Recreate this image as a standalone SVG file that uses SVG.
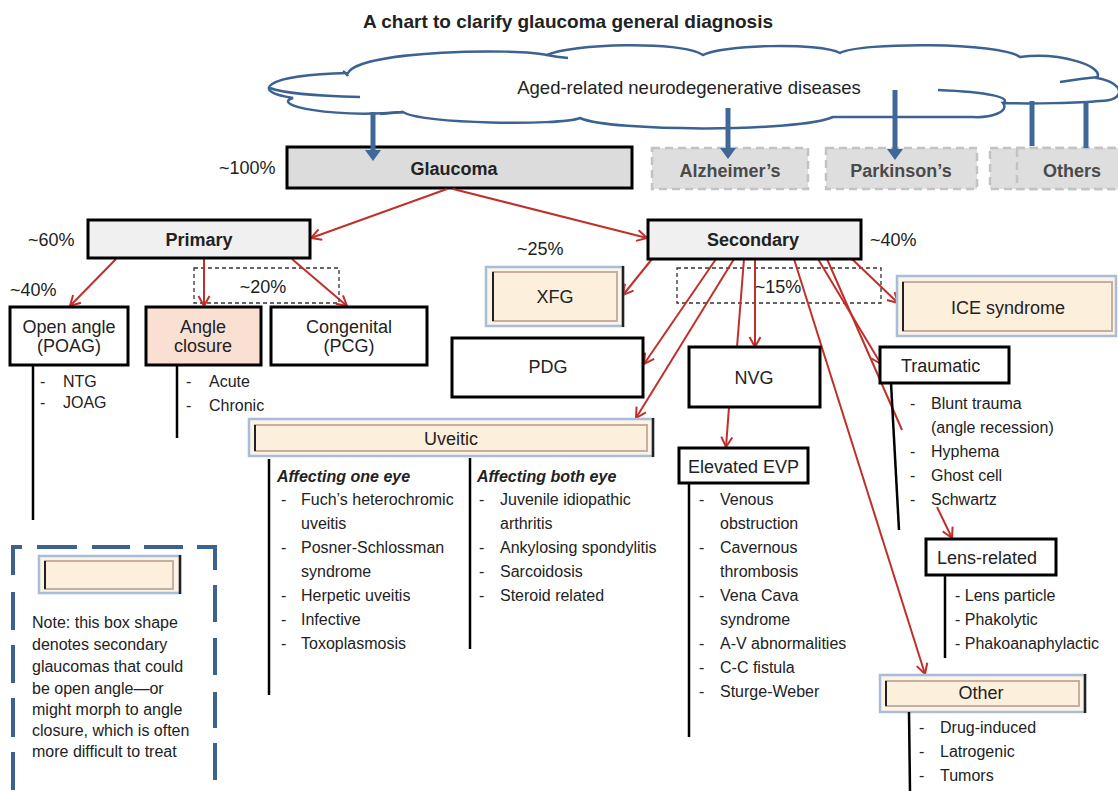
<svg xmlns="http://www.w3.org/2000/svg" width="1118" height="791" viewBox="0 0 1118 791">
<defs>
<style>
text{font-family:"Liberation Sans",Arial,sans-serif;fill:#222;dominant-baseline:central}
.t18{font-size:18px}
.b{font-weight:bold}
.l16{font-size:16px}
.mid{text-anchor:middle}
.box{fill:#fff;stroke:#000;stroke-width:3}
.gbox{fill:#dedede;stroke:#c3c3c3;stroke-width:2.5;stroke-dasharray:8 5}
.gt{fill:#4a4a4a;font-weight:bold;font-size:18px;text-anchor:middle}
.red{stroke:#c0302b;stroke-width:2;fill:none}
.blue{stroke:#3f6797;stroke-width:5;fill:none}
.fo{fill:#fdf4e8;stroke:#a9bdd8;stroke-width:2.5}
.fi{fill:#fcefdc;stroke:#c6aea0;stroke-width:2}
.fd{stroke:#222;stroke-width:2}
.vl{stroke:#000;stroke-width:2.5}
.dsh{fill:none;stroke:#333;stroke-width:1.3;stroke-dasharray:4 3}
.cl{fill:none;stroke:#3c6291;stroke-width:2.5}
.nd{fill:none;stroke:#3c6291;stroke-width:4}
</style>
<marker id="ah" viewBox="0 0 14 14" refX="12" refY="7" markerWidth="14" markerHeight="14" orient="auto" markerUnits="userSpaceOnUse"><path d="M2,1.5 L12,7 L2,12.5" fill="none" stroke="#c0302b" stroke-width="2"/></marker>
</defs>
<rect width="1118" height="791" fill="#fff"/>
<text x="568" y="21" class="b mid" font-size="19">A chart to clarify glaucoma general diagnosis</text>

<g id="cloud">
<path d="M348,73 C360,50 520,48 547,55 C570,44 680,40 703,55 C720,45 820,42 840,53 C860,42 1000,42 1020,57 C1060,52 1105,66 1097,78 C1126,83 1126,101 1100,101 C1080,103 1030,104 1003,103 C1010,112 990,118 973,117 L833,117 C800,132 610,132 580,118 C560,126 420,124 403,112 C330,118 270,105 293,98 C250,92 262,75 348,73 Z" fill="#fff" stroke="#3c6291" stroke-width="2.5"/>
<path class="cl" d="M270,88 C285,94 320,96 360,97"/>
<path class="cl" d="M938,90 C990,92 1012,98 1003,103"/>
<path class="cl" d="M1060,82 Q1085,78 1099,77"/>
<path class="cl" d="M547,55 Q556,57 568,58"/>
<path class="cl" d="M343,71 Q346,73 348,76"/>
<path class="cl" d="M380,114 L403,112"/>
<text x="689" y="87" class="mid" font-size="18.5">Aged-related neurodegenerative diseases</text>
</g>

<g id="glaucoma"><rect x="287" y="147" width="345" height="41" fill="#dcdcdc" stroke="#000" stroke-width="3"/><text x="454" y="169" class="t18 b mid">Glaucoma</text></g>
<text x="219" y="168" class="t18" fill="#333">~100%</text>
<g id="alzheimers"><rect x="652" y="148" width="156" height="41" class="gbox"/><text x="730" y="171" class="gt">Alzheimer’s</text></g>
<g id="parkinsons"><rect x="826" y="148" width="151" height="41" class="gbox"/><text x="901" y="171" class="gt">Parkinson’s</text></g>
<g id="others"><rect x="990" y="148" width="140" height="41" class="gbox"/><rect x="1017" y="148" width="113" height="41" class="gbox"/><text x="1072" y="171" class="gt">Others</text></g>

<g id="blue-connectors">
<line class="blue" x1="373" y1="112" x2="373" y2="151"/><path d="M365,150 L381,150 L373,161 Z" fill="#3f6797"/>
<line class="blue" x1="728" y1="108" x2="728" y2="149"/><path d="M720,148 L736,148 L728,159 Z" fill="#3f6797"/>
<line class="blue" x1="895" y1="90" x2="895" y2="150"/><path d="M887,149 L903,149 L895,160 Z" fill="#3f6797"/>
<line class="blue" x1="1032" y1="101" x2="1032" y2="146"/>
<line class="blue" x1="1086" y1="101" x2="1086" y2="148"/>
</g>

<rect x="194" y="268" width="145" height="35" class="dsh"/>
<text x="263" y="287" class="t18 mid" fill="#333">~20%</text>
<rect x="677" y="268" width="204" height="35" class="dsh"/>
<text x="778" y="287" class="t18 mid" fill="#333">~15%</text>

<g id="red-connectors">
<line class="red" x1="447" y1="189" x2="311" y2="238" marker-end="url(#ah)"/>
<line class="red" x1="453" y1="189" x2="647" y2="238" marker-end="url(#ah)"/>
<line class="red" x1="116" y1="259" x2="70" y2="306" marker-end="url(#ah)"/>
<line class="red" x1="204" y1="259" x2="204" y2="306" marker-end="url(#ah)"/>
<line class="red" x1="292" y1="259" x2="347" y2="306" marker-end="url(#ah)"/>
<line class="red" x1="652" y1="259" x2="623" y2="295" marker-end="url(#ah)"/>
<line class="red" x1="716" y1="259" x2="644" y2="364" marker-end="url(#ah)"/>
<line class="red" x1="734" y1="259" x2="636" y2="418" marker-end="url(#ah)"/>
<line class="red" x1="744" y1="259" x2="737" y2="347"/>
<line class="red" x1="755" y1="259" x2="755" y2="347" marker-end="url(#ah)"/>
<line class="red" x1="794" y1="259" x2="925" y2="674" marker-end="url(#ah)"/>
<line class="red" x1="818" y1="259" x2="881" y2="364" marker-end="url(#ah)"/>
<line class="red" x1="827" y1="259" x2="902" y2="430"/>
<line class="red" x1="937" y1="507" x2="952" y2="538" marker-end="url(#ah)"/>
<line class="red" x1="852" y1="259" x2="898" y2="303" marker-end="url(#ah)"/>
<line class="red" x1="729" y1="407" x2="726" y2="447" marker-end="url(#ah)"/>
</g>

<text x="28" y="240" class="t18" fill="#333">~60%</text>
<text x="10" y="290" class="t18" fill="#333">~40%</text>
<g id="primary"><rect x="88" y="220" width="222" height="38" fill="#f0f0f0" stroke="#000" stroke-width="3"/><text x="199" y="240" class="t18 b mid">Primary</text></g>

<g id="open-angle"><rect x="10" y="307" width="118" height="58" class="box"/><text x="69" y="327" class="t18 mid">Open angle</text><text x="69" y="346" class="t18 mid">(POAG)</text>
<line class="vl" x1="33" y1="365" x2="33" y2="520"/>
<text x="40" y="381" class="l16">-</text><text x="63" y="381" class="l16">NTG</text>
<text x="40" y="402" class="l16">-</text><text x="63" y="402" class="l16">JOAG</text></g>

<g id="angle-closure"><rect x="146" y="307" width="115" height="58" fill="#f9e0d3" stroke="#000" stroke-width="3"/><text x="203" y="327" class="t18 mid">Angle</text><text x="203" y="346" class="t18 mid">closure</text>
<line class="vl" x1="177" y1="365" x2="177" y2="438"/>
<text x="186" y="381" class="l16">-</text><text x="209" y="381" class="l16">Acute</text>
<text x="186" y="405" class="l16">-</text><text x="209" y="405" class="l16">Chronic</text></g>

<g id="congenital"><rect x="271" y="307" width="156" height="58" class="box"/><text x="349" y="327" class="t18 mid">Congenital</text><text x="349" y="346" class="t18 mid">(PCG)</text></g>

<g id="secondary"><rect x="648" y="220" width="213" height="39" fill="#f0f0f0" stroke="#000" stroke-width="3"/><text x="753" y="240" class="t18 b mid">Secondary</text></g>
<text x="870" y="240" class="t18" fill="#333">~40%</text>
<text x="517" y="249" class="t18" fill="#333">~25%</text>

<g id="xfg"><rect x="486" y="267" width="137" height="59" class="fo"/><rect x="493" y="272" width="124" height="49" class="fi"/><line class="fd" x1="493" y1="272" x2="493" y2="321"/><line x1="623" y1="266" x2="623" y2="327" stroke="#222" stroke-width="2.5"/><text x="555" y="297" class="t18 mid">XFG</text></g>

<g id="ice"><rect x="897" y="276" width="219" height="60" class="fo"/><rect x="903" y="282" width="209" height="49" class="fi"/><line class="fd" x1="903" y1="282" x2="903" y2="331"/><text x="1008" y="308" class="t18 mid">ICE syndrome</text></g>

<g id="pdg"><rect x="452" y="338" width="191" height="59" class="box"/><text x="548" y="367" class="t18 mid">PDG</text></g>
<g id="nvg"><rect x="689" y="347" width="131" height="60" class="box"/><text x="754" y="378" class="t18 mid">NVG</text></g>

<g id="traumatic"><rect x="880" y="347" width="129" height="36" class="box"/><text x="901" y="366" class="t18">Traumatic</text>
<line class="vl" x1="891" y1="383" x2="899" y2="530"/>
<text x="910" y="403" class="l16">-</text><text x="931" y="403" class="l16">Blunt trauma</text>
<text x="931" y="427" class="l16">(angle recession)</text>
<text x="910" y="451" class="l16">-</text><text x="931" y="451" class="l16">Hyphema</text>
<text x="910" y="475" class="l16">-</text><text x="931" y="475" class="l16">Ghost cell</text>
<text x="910" y="499" class="l16">-</text><text x="931" y="499" class="l16">Schwartz</text></g>

<g id="uveitic"><rect x="249" y="419" width="404" height="37" class="fo"/><rect x="255" y="425" width="392" height="26" class="fi"/><line class="fd" x1="255" y1="425" x2="255" y2="451"/><line x1="653" y1="418" x2="653" y2="457" stroke="#222" stroke-width="2.5"/><text x="451" y="439" class="t18 mid">Uveitic</text>
<line class="vl" x1="269" y1="459" x2="269" y2="695"/>
<line class="vl" x1="470" y1="458" x2="470" y2="649"/>
<text x="277" y="476" class="l16 b" font-style="italic">Affecting one eye</text>
<text x="281" y="499" class="l16">-</text><text x="301" y="499" class="l16">Fuch’s heterochromic</text>
<text x="301" y="523" class="l16">uveitis</text>
<text x="281" y="547" class="l16">-</text><text x="301" y="547" class="l16">Posner-Schlossman</text>
<text x="301" y="571" class="l16">syndrome</text>
<text x="281" y="595" class="l16">-</text><text x="301" y="595" class="l16">Herpetic uveitis</text>
<text x="281" y="619" class="l16">-</text><text x="301" y="619" class="l16">Infective</text>
<text x="281" y="643" class="l16">-</text><text x="301" y="643" class="l16">Toxoplasmosis</text>
<text x="477" y="476" class="l16 b" font-style="italic">Affecting both eye</text>
<text x="479" y="499" class="l16">-</text><text x="500" y="499" class="l16">Juvenile idiopathic</text>
<text x="500" y="523" class="l16">arthritis</text>
<text x="479" y="547" class="l16">-</text><text x="500" y="547" class="l16">Ankylosing spondylitis</text>
<text x="479" y="571" class="l16">-</text><text x="500" y="571" class="l16">Sarcoidosis</text>
<text x="479" y="595" class="l16">-</text><text x="500" y="595" class="l16">Steroid related</text></g>

<g id="elevated-evp"><rect x="679" y="448" width="129" height="35" class="box"/><text x="688" y="467" class="t18">Elevated EVP</text>
<line class="vl" x1="689" y1="483" x2="689" y2="737"/>
<text x="699" y="499" class="l16">-</text><text x="720" y="499" class="l16">Venous</text>
<text x="720" y="523" class="l16">obstruction</text>
<text x="699" y="547" class="l16">-</text><text x="720" y="547" class="l16">Cavernous</text>
<text x="720" y="571" class="l16">thrombosis</text>
<text x="699" y="595" class="l16">-</text><text x="720" y="595" class="l16">Vena Cava</text>
<text x="720" y="619" class="l16">syndrome</text>
<text x="699" y="643" class="l16">-</text><text x="720" y="643" class="l16">A-V abnormalities</text>
<text x="699" y="667" class="l16">-</text><text x="720" y="667" class="l16">C-C fistula</text>
<text x="699" y="691" class="l16">-</text><text x="720" y="691" class="l16">Sturge-Weber</text></g>

<g id="lens-related"><rect x="926" y="539" width="130" height="36" class="box"/><text x="937" y="558" class="t18">Lens-related</text>
<line class="vl" x1="945" y1="575" x2="945" y2="658"/>
<text x="955" y="595" class="l16">- Lens particle</text>
<text x="955" y="619" class="l16">- Phakolytic</text>
<text x="955" y="643" class="l16">- Phakoanaphylactic</text></g>

<g id="other"><rect x="880" y="675" width="205" height="37" class="fo"/><rect x="886" y="681" width="193" height="25" class="fi"/><line class="fd" x1="886" y1="681" x2="886" y2="706"/><line x1="1085" y1="674" x2="1085" y2="713" stroke="#222" stroke-width="2.5"/><text x="981" y="693" class="t18 mid">Other</text>
<line class="vl" x1="909" y1="712" x2="910" y2="791"/>
<text x="919" y="727" class="l16">-</text><text x="940" y="727" class="l16">Drug-induced</text>
<text x="919" y="751" class="l16">-</text><text x="940" y="751" class="l16">Latrogenic</text>
<text x="919" y="775" class="l16">-</text><text x="940" y="775" class="l16">Tumors</text></g>

<g id="note">
<path class="nd" d="M13,575 L13,547 L22,547 M37,547 L77,547 M92,547 L130,547 M144,547 L183,547 M197,547 L215,547 L215,570 M13,592 L13,630 M13,645 L13,683 M13,698 L13,737 M13,752 L13,790 M215,585 L215,622 M215,638 L215,675 M215,692 L215,728 M215,743 L215,780"/>
<rect x="39" y="556" width="141" height="37" class="fo"/><rect x="45" y="561" width="128" height="28" class="fi"/><line class="fd" x1="45" y1="561" x2="45" y2="589"/><line x1="180" y1="555" x2="180" y2="594" stroke="#222" stroke-width="2.5"/>
<text x="32" y="622" class="l16">Note: this box shape</text>
<text x="32" y="644" class="l16">denotes secondary</text>
<text x="32" y="666" class="l16">glaucomas that could</text>
<text x="32" y="688" class="l16">be open angle—or</text>
<text x="32" y="709" class="l16">might morph to angle</text>
<text x="32" y="730" class="l16">closure, which is often</text>
<text x="32" y="751" class="l16">more difficult to treat</text></g>
</svg>
